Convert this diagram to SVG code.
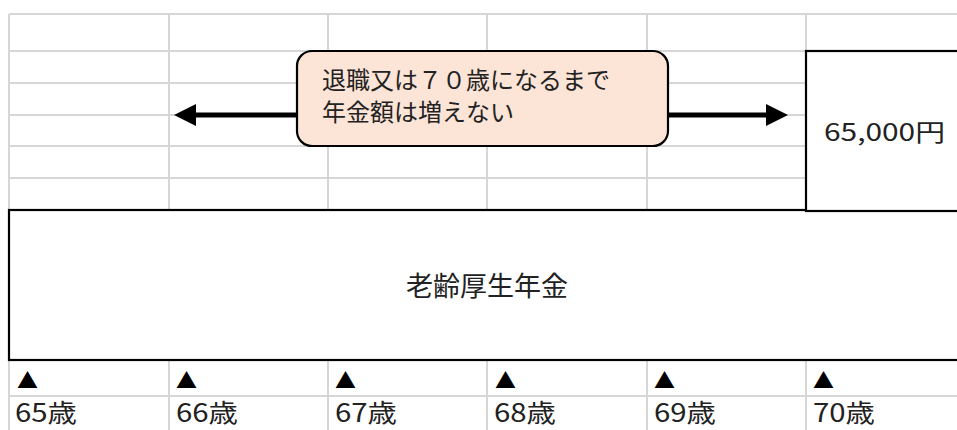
<svg xmlns="http://www.w3.org/2000/svg" width="957" height="430" viewBox="0 0 957 430">
<style>
.grid{stroke:#D6D6D6;stroke-width:2;fill:none}
.box{fill:#FFFFFF;stroke:#000000;stroke-width:2.2}
.jp{font-family:"Noto Sans CJK JP","Noto Sans CJK SC",sans-serif;fill:#222222}
.age{font-size:25px}
.tri{font-size:21px;fill:#000000}
</style>
<defs>
<marker id="ah" viewBox="0 0 22 22" markerUnits="userSpaceOnUse" markerWidth="22" markerHeight="22" refX="16" refY="11" orient="auto-start-reverse">
<path d="M0,0 L22,11 L0,22 z" fill="#000000"/>
</marker>
</defs>
<rect width="957" height="430" fill="#FFFFFF"/>
<g id="grid" class="grid">
<path d="M9,14H957 M9,51H806 M9,83H806 M9,115H806 M9,146H806 M9,178H806 M9,396H957"/>
<path d="M9,14V210 M169,14V210 M328,14V210 M487,14V210 M647,14V210 M806,14V51"/>
<path d="M9,360V430 M169,360V430 M328,360V430 M487,360V430 M647,360V430 M806,360V430"/>
</g>
<g id="node-pension">
<rect class="box" x="9" y="210" width="960" height="150"/>
<text class="jp" x="487" y="295.5" font-size="27" text-anchor="middle">老齢厚生年金</text>
</g>
<g id="node-amount">
<rect class="box" x="806" y="51" width="160" height="160"/>
<text class="jp" x="824" y="141" font-size="24" textLength="121" lengthAdjust="spacingAndGlyphs">65,000円</text>
</g>
<g id="connectors">
<line x1="180" y1="115" x2="782" y2="115" stroke="#000000" stroke-width="5" marker-start="url(#ah)" marker-end="url(#ah)"/>
</g>
<g id="node-callout">
<rect x="297" y="51" width="371" height="95" rx="15" ry="15" fill="#FCE4D6" stroke="#000000" stroke-width="2.2"/>
<text class="jp" x="322" y="88.5" font-size="24">退職又は７０歳になるまで</text>
<text class="jp" x="322" y="121" font-size="24">年金額は増えない</text>
</g>
<g id="markers">
<text class="jp tri" x="17" y="388">▲</text>
<text class="jp tri" x="176" y="388">▲</text>
<text class="jp tri" x="335" y="388">▲</text>
<text class="jp tri" x="495" y="388">▲</text>
<text class="jp tri" x="654" y="388">▲</text>
<text class="jp tri" x="813" y="388">▲</text>
</g>
<g id="ages">
<text class="jp age" x="15" y="422" textLength="62" lengthAdjust="spacingAndGlyphs">65歳</text>
<text class="jp age" x="176" y="422" textLength="62" lengthAdjust="spacingAndGlyphs">66歳</text>
<text class="jp age" x="335" y="422" textLength="62" lengthAdjust="spacingAndGlyphs">67歳</text>
<text class="jp age" x="494" y="422" textLength="62" lengthAdjust="spacingAndGlyphs">68歳</text>
<text class="jp age" x="654" y="422" textLength="62" lengthAdjust="spacingAndGlyphs">69歳</text>
<text class="jp age" x="813" y="422" textLength="62" lengthAdjust="spacingAndGlyphs">70歳</text>
</g>
</svg>
